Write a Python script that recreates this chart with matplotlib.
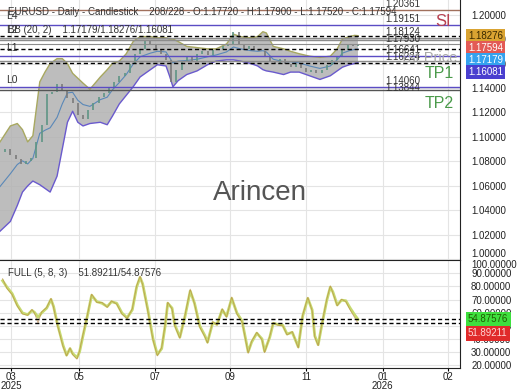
import matplotlib
matplotlib.use('Agg')
import matplotlib.pyplot as plt
import numpy as np

plt.rcParams['font.family'] = ['Liberation Sans', 'DejaVu Sans']

# candles, one sample every third daily bar
bar_idx = np.arange(0, 208, 3)
closes = [1.088, 1.090, 1.085, 1.082, 1.078, 1.080, 1.083, 1.096, 1.110, 1.135,
          1.137, 1.143, 1.138, 1.132, 1.128, 1.118, 1.115, 1.122, 1.128, 1.133,
          1.136, 1.141, 1.145, 1.150, 1.152, 1.160, 1.168, 1.172, 1.178, 1.176,
          1.172, 1.168, 1.163, 1.145, 1.155, 1.162, 1.165, 1.161, 1.168, 1.170,
          1.167, 1.171, 1.172, 1.174, 1.176, 1.186, 1.176, 1.172, 1.174, 1.172,
          1.170, 1.166, 1.162, 1.160, 1.164, 1.160, 1.157, 1.160, 1.156, 1.153,
          1.155, 1.152, 1.155, 1.159, 1.163, 1.166, 1.171, 1.175, 1.174, 1.17594]

# bollinger bands (20, 2)
bb_x = [0, 6, 10, 13, 16, 19, 23, 26, 29, 33, 36, 39, 42, 45, 48, 52, 58, 62, 65, 69,
        73, 77, 81, 87, 91, 96, 98, 100, 103, 108, 114, 120, 125, 131, 135, 139, 145, 149, 152, 154,
        158, 164, 168, 173, 179, 185, 191, 195, 198, 202, 205, 207]
bb_up = [1.096, 1.109, 1.111, 1.106, 1.096, 1.101, 1.145, 1.153, 1.160, 1.164,
         1.164, 1.160, 1.152, 1.148, 1.144, 1.139, 1.149, 1.155, 1.160, 1.162,
         1.168, 1.178, 1.182, 1.182, 1.181, 1.181, 1.180, 1.180, 1.178, 1.174,
         1.173, 1.172, 1.172, 1.176, 1.184, 1.182, 1.181, 1.182, 1.186, 1.185,
         1.174, 1.172, 1.170, 1.168, 1.166, 1.165, 1.166, 1.172, 1.180, 1.182,
         1.183, 1.18276]
bb_lo = [1.023, 1.031, 1.044, 1.055, 1.060, 1.064, 1.061, 1.058, 1.055, 1.068,
         1.090, 1.112, 1.121, 1.112, 1.109, 1.111, 1.112, 1.110, 1.117, 1.127,
         1.134, 1.141, 1.149, 1.155, 1.159, 1.158, 1.150, 1.141, 1.146, 1.151,
         1.154, 1.159, 1.162, 1.163, 1.163, 1.162, 1.160, 1.158, 1.155, 1.154,
         1.153, 1.151, 1.153, 1.153, 1.150, 1.147, 1.150, 1.154, 1.157, 1.159,
         1.160, 1.16081]
bb_last = [1.18276, 1.17179, 1.16081]

# horizontal levels
levels = [1.20361, 1.19151, 1.18124, 1.17930, 1.16641, 1.16224, 1.14060, 1.13844]
level_colors = ['#a0705c', '#5b4cc4', '#8c8c8c', '#8c8c8c', '#5b4cc4', '#8c8c8c', '#5b4cc4', '#555555']
last_close = 1.17594

# full stochastic (5, 8, 3)
st_x = [1.5, 4, 7, 10, 13, 16, 18.5, 20, 22, 24, 27, 29.5, 31, 33, 34.5, 36.5, 38.5, 40.5, 42, 44.5,
        46, 48, 50.5, 53, 56, 59, 62, 64.5, 67.5, 70.5, 73.5, 76.5, 79, 81, 82.5, 85.5, 88.5, 91, 93.5, 95.5,
        97, 99.5, 101, 104, 107, 110, 112.5, 115.5, 118.5, 120, 123, 125.5, 128.5, 131, 134, 137, 140, 143.5, 145.5, 148.5,
        151.5, 153, 156, 158, 160.5, 163.5, 166, 169, 172.5, 175, 178, 180.5, 182, 184, 186, 189, 191, 192.5, 195, 197.5,
        200, 202.5, 205, 207]
st_d = [84.4, 79.5, 74.6, 65.9, 59.8, 58.5, 61.7, 60.2, 56.5, 59.8, 63.5, 70.1, 64.7, 52.4, 45.0, 35.0, 27.6, 32.6, 28.9, 25.7,
        30.1, 42.4, 57.3, 73.3, 68.4, 67.2, 64.7, 68.4, 67.2, 59.8, 56.1, 62.2, 79.5, 86.9, 82.0, 62.2, 40.0, 28.1, 32.6, 49.9,
        67.2, 63.5, 51.0, 41.3, 57.3, 76.5, 67.2, 49.9, 42.4, 37.5, 52.4, 51.1, 62.2, 57.3, 70.9, 59.8, 53.6, 30.1, 37.5, 44.4,
        40.0, 30.6, 41.3, 51.9, 51.1, 50.4, 43.7, 45.0, 33.9, 57.3, 70.9, 62.2, 42.4, 35.6, 49.9, 69.6, 79.5, 75.8, 65.9, 69.6,
        69.1, 63.5, 58.5, 54.88]
st_k = [86.0, 78.5, 73.8, 65.0, 59.0, 58.0, 62.5, 59.5, 52.0, 60.5, 64.0, 71.0, 63.8, 51.5, 44.0, 34.0, 27.0, 33.2, 28.0, 24.5,
        30.8, 43.5, 58.0, 74.2, 67.8, 67.8, 64.0, 69.0, 66.5, 59.0, 55.5, 63.0, 80.5, 88.0, 81.2, 61.0, 39.0, 27.0, 33.5, 51.0,
        68.0, 62.8, 50.0, 40.5, 58.2, 78.0, 66.5, 49.0, 41.5, 36.8, 53.2, 50.5, 63.0, 56.5, 72.0, 59.0, 52.8, 29.0, 38.2, 45.0,
        39.2, 29.5, 42.0, 52.5, 50.5, 50.0, 43.0, 45.6, 33.0, 58.2, 71.8, 61.5, 41.5, 34.8, 50.8, 70.5, 80.5, 75.0, 65.2, 70.2,
        68.5, 62.0, 56.5, 51.89]
st_last = [54.87576, 51.89211]

month_pos = [6.4, 45.7, 89.6, 133, 177, 221.4, 259]
month_lab = ['03\n2025', '05', '07', '09', '11', '01\n2026', '02']

W, H = 520, 390
def fx(px):
    return px / W
def fy(py):
    return 1 - py / H

fig = plt.figure(figsize=(5.2, 3.9), dpi=100)
ax = fig.add_axes([0, fy(260), fx(460), fy(0) - fy(260)])
ax2 = fig.add_axes([0, fy(368), fx(460), fy(260) - fy(368)], sharex=ax)

# ---- price panel
ax.fill(np.r_[bb_x, bb_x[::-1]], np.r_[bb_up, bb_lo[::-1]], color='#b2b2b2', alpha=0.85, lw=0, zorder=1)
ax.plot(bb_x, bb_up, color='#a8a860', lw=1, zorder=2)
ax.plot(bb_x, bb_lo, color='#6a5acd', lw=1, zorder=2)
ax.plot(bb_x, (np.array(bb_up) + np.array(bb_lo)) / 2, color='#5a88b8', lw=0.8, zorder=2)

closes = np.array(closes)
opens = np.r_[closes[0], closes[:-1]]
up = closes >= opens
ax.vlines(bar_idx[up], opens[up], closes[up], colors='#5f9585', lw=1.2, zorder=3)
ax.vlines(bar_idx[~up], closes[~up], opens[~up], colors='#7a7a7a', lw=1.2, zorder=3)

for v, c in zip(levels, level_colors):
    ax.axhline(v, color=c, lw=1, zorder=4)
ax.axhline(last_close, color='#8c8c8c', lw=0.8, zorder=4)
for v in bb_last:
    ax.axhline(v, color='black', lw=1, ls=(0, (3, 2)), zorder=5)

ax.set_xlim(0, 266)
ax.set_ylim(0.9995, 1.2119)
yt = np.round(np.arange(1.00, 1.2001, 0.02), 2)
ax.set_yticks(yt)
ax.set_yticklabels(['%.5f' % t for t in yt])
ax.yaxis.tick_right()
ax.tick_params(axis='y', length=0, pad=8, labelsize=7, labelcolor='#222222')
ax.tick_params(axis='x', length=0, labelbottom=False)
ax.get_yticklabels()[0].set_va('bottom')
ax.grid(color='#e4e4e4', lw=0.8)
ax.set_axisbelow(True)
for s in ['top', 'left', 'bottom']:
    ax.spines[s].set_visible(False)
ax.spines['right'].set_color('#222222')

# level value labels, stacked downward
prev = None
for v in levels:
    yd = ax.transData.transform((0, v))[1] + 6
    if prev is not None:
        yd = min(yd, prev - 7)
    prev = yd
    fig.text(fx(385), yd / H, '%.5f' % v, fontsize=7, color='#333333', va='center')

# price boxes on the right
boxes = [(1.18276, '#d9a332', '#3a2a00'), (1.17594, '#e35a55', 'white'),
         (1.17179, '#34a2ef', 'white'), (1.16081, '#4a3fcf', 'white')]
prev = None
for v, bc, tc in boxes:
    yd = ax.transData.transform((0, v))[1]
    if prev is not None:
        yd = min(yd, prev - 12)
    prev = yd
    fig.text(fx(468), yd / H, '%.5f' % v, fontsize=7, color=tc, va='center',
             bbox=dict(boxstyle='square,pad=0.22', fc=bc, ec='none'))

# ---- stochastic panel
ax2.plot(st_x, st_d, color='#c6da70', lw=2.0, zorder=3)
ax2.plot(st_x, st_k, color='#b87a36', lw=0.6, alpha=0.6, zorder=4)
for v in st_last:
    ax2.axhline(v, color='black', lw=1, ls=(0, (3, 2)), zorder=5)
ax2.set_ylim(17.8, 100.2)
yt2 = np.arange(20, 101, 10)
ax2.set_yticks(yt2)
ax2.set_yticklabels(['%.5f' % t for t in yt2])
ax2.yaxis.tick_right()
ax2.tick_params(axis='y', length=0, pad=8, labelsize=7, labelcolor='#222222')
ax2.get_yticklabels()[-1].set_va('top')
ax2.set_xticks(month_pos)
ax2.set_xticklabels(month_lab, linespacing=0.9)
ax2.tick_params(axis='x', length=2, labelsize=7, labelcolor='#222222', pad=1)
ax2.grid(color='#e4e4e4', lw=0.8)
ax2.set_axisbelow(True)
ax2.spines['left'].set_visible(False)
for s in ['top', 'right', 'bottom']:
    ax2.spines[s].set_color('#222222')

prev = None
for v, bc, tc in [(54.87576, '#3ee03e', '#1f5a00'), (51.89211, '#e02a2a', '#ffd6d6')]:
    yd = ax2.transData.transform((0, v))[1]
    if prev is not None:
        yd = min(yd, prev - 14)
    prev = yd
    fig.text(fx(468), yd / H, '%.5f' % v, fontsize=7, color=tc, va='center',
             bbox=dict(boxstyle='square,pad=0.22', fc=bc, ec='none'))

# ---- texts
fig.text(fx(8), fy(12), 'EURUSD - Daily - Candlestick    208/228 - O:1.17720 - H:1.17900 - L:1.17520 - C:1.17594',
         fontsize=7, color='#333333', va='center')
fig.text(fx(8), fy(30), 'BB (20, 2)    1.17179/1.18276/1.16081', fontsize=7, color='#333333', va='center')
fig.text(fx(8), fy(273), 'FULL (5, 8, 3)    51.89211/54.87576', fontsize=7, color='#333333', va='center')
for lab, py in [('L4', 16), ('L2', 30), ('L1', 48), ('L0', 80)]:
    fig.text(fx(6), fy(py), lab, fontsize=7.5, color='#333333', va='center')

fig.text(fx(435), fy(22), 'SI', fontsize=12, color='#b84050', va='center')
fig.text(fx(400), fy(58), '1st Price', fontsize=10.5, color='#a8a8a8', va='center')
fig.text(fx(425), fy(74), 'TP1', fontsize=11.5, color='#4a9a4a', va='center')
fig.text(fx(425), fy(104), 'TP2', fontsize=11.5, color='#4a9a4a', va='center')
fig.text(fx(260), fy(193), 'Arincen', fontsize=20, color='#555555', ha='center', va='center')

fig.savefig('out.png', dpi=100)
